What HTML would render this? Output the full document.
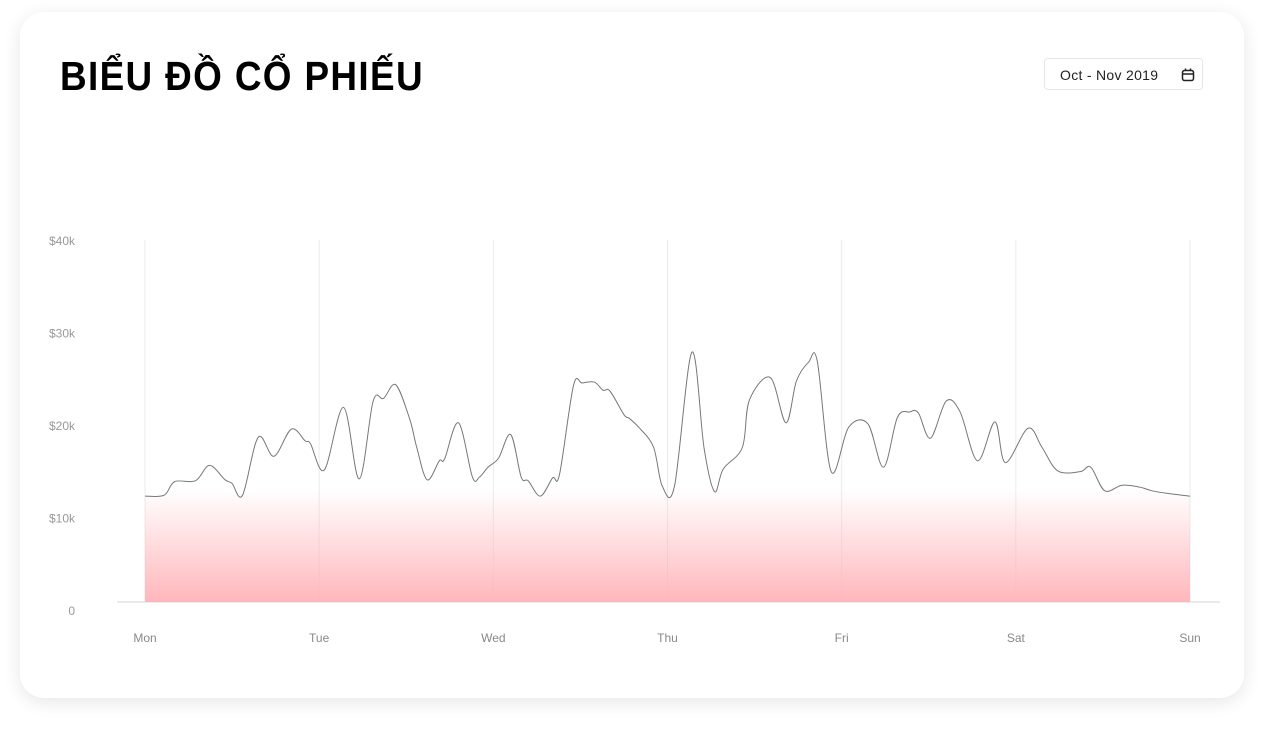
<!DOCTYPE html>
<html><head><meta charset="utf-8"><style>
body{margin:0;width:1264px;height:729px;background:#fff;font-family:"Liberation Sans",sans-serif;overflow:hidden;position:relative}
.card{position:absolute;left:20px;top:12px;width:1224px;height:686px;background:#fff;border-radius:24px;box-shadow:0 4px 18px rgba(0,0,0,0.10)}
.title{position:absolute;left:60px;top:53px;font-size:41px;font-weight:bold;color:#000;letter-spacing:1.5px;font-family:"Liberation Sans",sans-serif;transform:scaleX(0.9);transform-origin:0 0;white-space:nowrap}
.date{position:absolute;left:1044px;top:58px;width:159px;height:32px;border:1px solid #e6e6e6;border-radius:4px;font-size:14px;color:#222;line-height:32px;box-sizing:border-box;padding-left:15px;letter-spacing:0.3px}
svg{position:absolute;left:0;top:0}
</style></head><body>
<div class="card"></div>
<div class="title">BIỂU ĐỒ CỔ PHIẾU</div>
<div class="date">Oct - Nov 2019
<svg style="left:136px;top:9px" width="14" height="14" viewBox="0 0 14 14"><rect x="1.5" y="2.5" width="11" height="10" rx="2" fill="none" stroke="#222" stroke-width="1.5"/><line x1="1.5" y1="6" x2="12.5" y2="6" stroke="#222" stroke-width="1.5"/><line x1="4.5" y1="0.5" x2="4.5" y2="3" stroke="#222" stroke-width="1.5"/><line x1="9.5" y1="0.5" x2="9.5" y2="3" stroke="#222" stroke-width="1.5"/></svg></div>
<svg id="chart" width="1264" height="729">
<defs><linearGradient id="g" x1="0" y1="0" x2="0" y2="1"><stop offset="0" stop-color="#ffb3b8" stop-opacity="0"/><stop offset="0.55" stop-color="#ffb3b8" stop-opacity="0"/><stop offset="1" stop-color="#ffb3b8" stop-opacity="0.95"/></linearGradient></defs>
</svg>
<script>
const dayLabels=["Mon","Tue","Wed","Thu","Fri","Sat","Sun"];
const yTicks=[0,10,20,30,40];
const yTickLabels=["0","$10k","$20k","$30k","$40k"];
const pointDays=[0,.11,.17,.29,.37,.46,.50,.56,.65,.74,.84,.92,.95,1.03,1.14,1.23,1.31,1.37,1.44,1.52,1.56,1.62,1.69,1.72,1.80,1.88,1.92,1.97,2.03,2.10,2.16,2.20,2.27,2.34,2.38,2.46,2.51,2.58,2.63,2.67,2.75,2.78,2.84,2.92,2.97,3.04,3.14,3.21,3.27,3.32,3.43,3.47,3.59,3.68,3.74,3.81,3.86,3.94,4.04,4.15,4.24,4.32,4.39,4.44,4.51,4.60,4.68,4.78,4.88,4.94,5.07,5.15,5.24,5.37,5.43,5.51,5.61,5.71,5.78,5.87,6.0];
const pointValues=[11.7,11.8,13.3,13.4,15.1,13.5,13.1,11.8,18.2,16.1,19.1,17.8,17.5,14.6,21.5,13.6,22.2,22.5,24.0,20.2,17.1,13.5,15.6,15.8,19.8,13.8,13.8,14.9,15.9,18.5,13.8,13.4,11.7,13.7,14.1,23.9,24.2,24.3,23.4,23.3,20.7,20.3,19.2,17.1,12.8,12.8,27.6,17.0,12.2,14.7,17.1,22.3,24.8,19.8,24.4,26.5,26.6,14.4,19.3,19.7,14.9,20.4,21.0,20.9,18.1,22.2,21.0,15.6,19.9,15.4,19.2,17.1,14.5,14.4,14.9,12.3,12.9,12.7,12.3,12.0,11.7];
const svg=document.getElementById('chart');const NS='http://www.w3.org/2000/svg';
const X=d=>145+d*(1045/6);const Y=v=>602-v*(362/40);
function mk(t,a){const e=document.createElementNS(NS,t);for(const k in a)e.setAttribute(k,a[k]);svg.appendChild(e);return e;}
dayLabels.forEach((d,i)=>{
 const l=mk('line',{x1:X(i),x2:X(i),y1:240,y2:602,stroke:'#ebebeb','stroke-width':1});
 
 
 const t=mk('text',{x:X(i),y:642,'text-anchor':'middle','font-size':12,fill:'#888'});t.textContent=d;
 
 
});
yTicks.forEach((v,i)=>{
 const t=mk('text',{x:75,y:Y(v)+(40-v)/40*8+5,'text-anchor':'end','font-size':12,fill:'#999'});t.textContent=yTickLabels[i];
 
 
});
const ax=mk('line',{x1:117,x2:1220,y1:602,y2:602,stroke:'#e3e3e3','stroke-width':1.5});


const P=pointDays.map((d,i)=>[X(d),Y(pointValues[i])]);
let path='M'+P[0][0]+','+P[0][1];
for(let i=0;i<P.length-1;i++){const p0=P[i-1]||P[i],p1=P[i],p2=P[i+1],p3=P[i+2]||p2;
 const c1=[p1[0]+(p2[0]-p0[0])/6,p1[1]+(p2[1]-p0[1])/6],c2=[p2[0]-(p3[0]-p1[0])/6,p2[1]-(p3[1]-p1[1])/6];
 path+=` C${c1[0]},${c1[1]} ${c2[0]},${c2[1]} ${p2[0]},${p2[1]}`;}
const area=mk('path',{d:path+` L${P[P.length-1][0]},602 L${P[0][0]},602 Z`,fill:'url(#g)'});


const ln=mk('path',{d:path,fill:'none',stroke:'#777','stroke-width':1});


</script>
</body></html>
